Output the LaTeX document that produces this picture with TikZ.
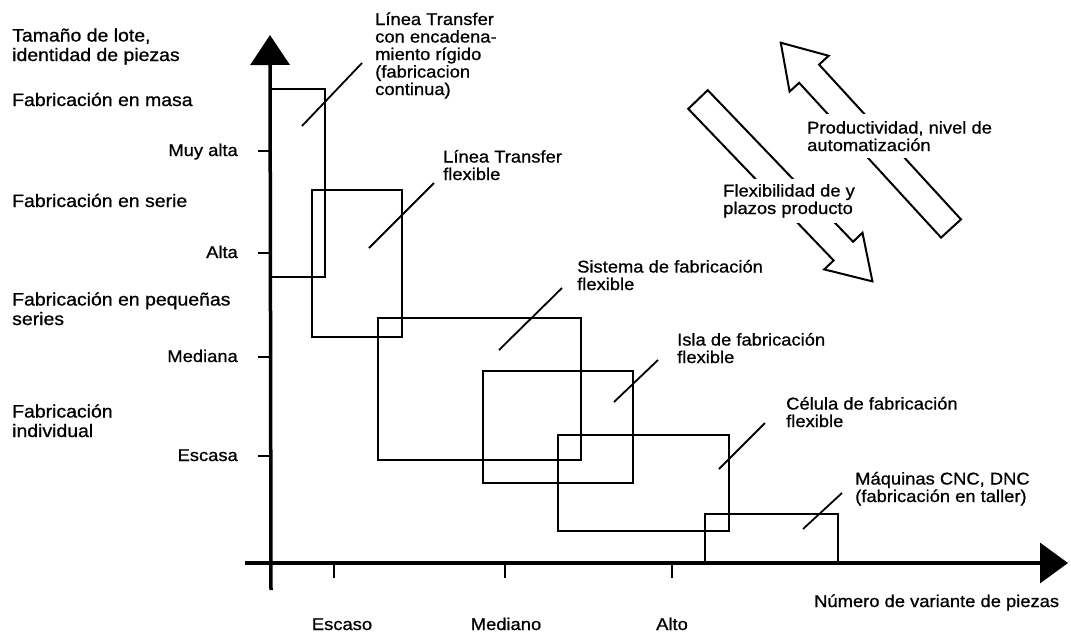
\documentclass[tikz,border=0pt]{standalone}
\usepackage{fontspec}
\setmainfont{Liberation Sans}[FakeStretch=1.08, FakeBold=0.8]
\usetikzlibrary{arrows.meta}

\tikzset{
  lbl/.style={anchor=base west, inner sep=0pt, align=left,
    font=\fontsize{17}{17.5}\selectfont},
  sidelbl/.style={lbl, font=\fontsize{18}{19.5}\selectfont},
  ticklbl/.style={anchor=base east, inner sep=0pt, font=\fontsize{17}{17.5}\selectfont},
  xticklbl/.style={anchor=base, inner sep=0pt, font=\fontsize{17}{17.5}\selectfont},
  axisline/.style={line width=3.5pt},
  tickmark/.style={line width=2.5pt},
  zone/.style={line width=2pt},
  pointer/.style={line width=1.8pt},
  bigarrow/.style={line width=2pt, line join=miter}
}

\begin{document}
\begin{tikzpicture}[x=1pt,y=-1pt]
\useasboundingbox (0,0) rectangle (1071,633);

% Bereiche der Fertigungssysteme
\draw[zone] (271,89) rectangle (325,277);
\draw[zone] (312,190) rectangle (402,337);
\draw[zone] (378,318) rectangle (581,460);
\draw[zone] (483,371) rectangle (633,483);
\draw[zone] (558,435) rectangle (729,531);
\draw[zone] (705,514) rectangle (838,563);

% Achsen
\coordinate (yfoot) at (271,590);
\coordinate (ytop) at (270,35);
\coordinate (xfoot) at (245,563);
\coordinate (xtop) at (1068,563);
\draw[axisline, -{Triangle[length=30pt,width=39pt]}] (yfoot) -- (ytop);
\draw[axisline, -{Triangle[length=28pt,width=40pt]}] (xfoot) -- (xtop);

\foreach \y/\t in {151/Muy alta,253/Alta,357/Mediana,456/Escasa}{
  \draw[tickmark] (258,\y) -- (271,\y);
  \node[ticklbl] (yt-\y) at (238,\y+5) {\t};
}
\foreach \x/\lx/\t in {334/342/Escaso,505/506/Mediano,672/672/Alto}{
  \draw[tickmark] (\x,563) -- (\x,578);
  \node[xticklbl] (xt-\x) at (\lx,630) {\t};
}

% Knoten mit mehreren Zeilen haengen an der letzten Grundlinie
\node[sidelbl] (ytitle) at (12,61) {Tamaño de lote,\\identidad de piezas};
\node[sidelbl] (masa) at (12,106) {Fabricación en masa};
\node[sidelbl] (serie) at (12,207) {Fabricación en serie};
\node[sidelbl] (pequenas) at (12,325) {Fabricación en pequeñas\\series};
\node[sidelbl] (individual) at (12,437) {Fabricación\\individual};
\node[lbl] (xtitle) at (814,607) {Número de variante de piezas};

% Beschriftungen mit Hinweislinien
\node[lbl] (rigidTxt) at (375,95) {Línea Transfer\\con encadena-\\miento rígido\\(fabricacion\\continua)};
\node[lbl] (transferTxt) at (443,180) {Línea Transfer\\flexible};
\node[lbl] (sistemaTxt) at (577,290) {Sistema de fabricación\\flexible};
\node[lbl] (islaTxt) at (677,363) {Isla de fabricación\\flexible};
\node[lbl] (celulaTxt) at (786,427) {Célula de fabricación\\flexible};
\node[lbl] (cncTxt) at (855,502) {Máquinas CNC, DNC\\(fabricación en taller)};

\coordinate (rigidIn) at (302,126);     \coordinate (rigidOut) at (362,63);
\coordinate (transferIn) at (369,248);  \coordinate (transferOut) at (434,183);
\coordinate (sistemaIn) at (499,350);   \coordinate (sistemaOut) at (562,288);
\coordinate (islaIn) at (614,402);      \coordinate (islaOut) at (658,360);
\coordinate (celulaIn) at (719,469);    \coordinate (celulaOut) at (765,423);
\coordinate (cncIn) at (803,529);       \coordinate (cncOut) at (842,493);
\foreach \p in {rigid,transfer,sistema,isla,celula,cnc}
  \draw[pointer] (\p In) -- (\p Out);

% Blockpfeile
\begin{scope}[shift={(951,228.5)}, rotate=132.5]
  \draw[bigarrow] (0,-13.5) -- (210,-13.5) -- (210,-26.5) -- (252,0)
    -- (210,26.5) -- (210,13.5) -- (0,13.5) -- cycle;
\end{scope}
\begin{scope}[shift={(698,99.5)}, rotate=-46.2]
  \draw[bigarrow] (0,-13.5) -- (210,-13.5) -- (210,-26.5) -- (252,0)
    -- (210,26.5) -- (210,13.5) -- (0,13.5) -- cycle;
\end{scope}
\node[lbl, fill=white, inner sep=7pt] (prodTxt) at (800,151) {Productividad, nivel de\\automatización};
\node[lbl, fill=white, inner sep=5pt] (flexTxt) at (718,214) {Flexibilidad de y\\plazos producto};

\end{tikzpicture}
\end{document}
